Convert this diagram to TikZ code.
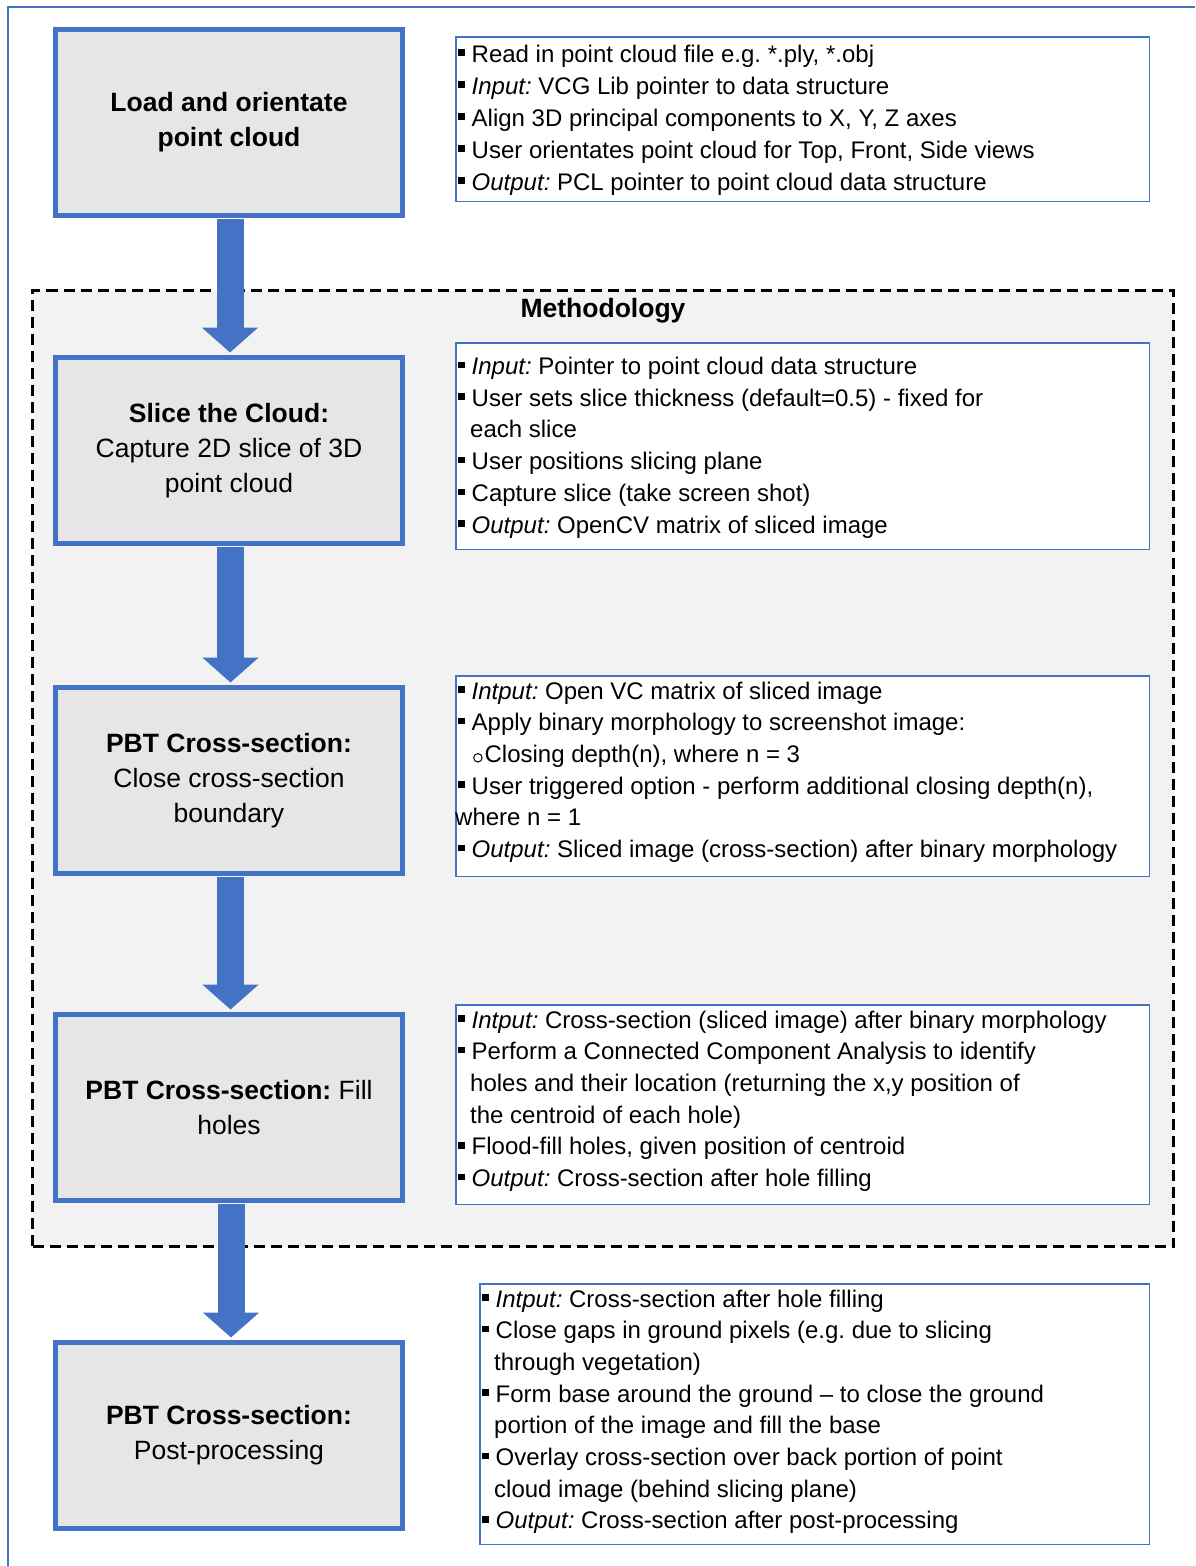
\documentclass[tikz,border=0pt]{standalone}
\usepackage{fontspec}
\setmainfont{Liberation Sans}
\usetikzlibrary{arrows.meta,calc}
\definecolor{bblue}{HTML}{4472C4}
\definecolor{boxgray}{HTML}{E6E6E6}
\definecolor{contgray}{HTML}{F2F2F2}
\frenchspacing
\newcommand\bul{\makebox[16.5pt][l]{\hspace{2.8pt}\rule[6.3pt]{6.5pt}{6.5pt}}}
\newcommand\cont{\hspace{15pt}}
\newcommand\subcirc{\hspace{18pt}\tikz[baseline=0pt]\draw[line width=1pt] (4.4pt,4.6pt) circle[radius=4.2pt];\hspace{2pt}}
\newcommand\lab[1]{{\itshape #1}}
\begin{document}
\begin{tikzpicture}[x=1pt,y=-1pt,
  stepbox/.style={draw=bblue,line width=5pt,fill=boxgray,minimum width=347pt,minimum height=186pt,align=center,inner sep=0pt,font=\fontsize{26.5}{35}\selectfont},
  infobox/.style={draw=bblue,line width=1.5pt,fill=white,inner sep=0pt},
  infotext/.style={anchor=base west,inner sep=0pt,font=\fontsize{24}{31.7}\selectfont},
  container/.style={draw=black,line width=3pt,dash pattern=on 11pt off 6pt,fill=contgray,minimum width=1141pt,minimum height=956pt,inner sep=0pt},
  flow/.style={bblue,line width=27pt,-{Triangle[width=55pt,length=25pt]}}]

\useasboundingbox (0,0) rectangle (1195,1566);
\fill[white] (0,0) rectangle (1195,1566);
\draw[bblue,line width=1.5pt] (8,1566) -- (8,7) -- (1195,7);

% Methodology container
\node[container] (meth) at (603,768.5) {};
\node[font=\fontsize{26.5}{35}\selectfont\bfseries,inner sep=0pt] (methlabel) at (603,311) {Methodology};

% step boxes
\node[stepbox] (b1) at (229,122.5) {\textbf{Load and orientate}\\\textbf{point cloud}\rule[-4pt]{0pt}{0pt}};
\node[stepbox] (b2) at (229,450.5) {\textbf{Slice the Cloud:}\\Capture 2D slice of 3D\\point cloud};
\node[stepbox] (b3) at (229,780.5) {\textbf{PBT Cross-section:}\\Close cross-section\\boundary};
\node[stepbox] (b4) at (229,1107.5) {\textbf{PBT Cross-section:} Fill\\holes};
\node[stepbox] (b5) at (229,1435.5) {\textbf{PBT Cross-section:}\\Post-processing};

% info boxes
\node[infobox,minimum width=693.5pt,minimum height=164.5pt] (i1) at (802.5,119) {};
\node[infobox,minimum width=693.5pt,minimum height=206.5pt] (i2) at (802.5,446) {};
\node[infobox,minimum width=693.5pt,minimum height=200.5pt] (i3) at (802.5,776) {};
\node[infobox,minimum width=693.5pt,minimum height=199.5pt] (i4) at (802.5,1104.5) {};
\node[infobox,minimum width=669.5pt,minimum height=260.5pt] (i5) at (814.5,1414) {};

\node[infotext,font=\fontsize{24}{32}\selectfont] (t1) at (455,62) {\parbox[t]{700pt}{\raggedright
\bul Read in point cloud file e.g. *.ply, *.obj\\
\bul\lab{Input:} VCG Lib pointer to data structure\\
\bul Align 3D principal components to X, Y, Z axes\\
\bul User orientates point cloud for Top, Front, Side views\\
\bul\lab{Output:} PCL pointer to point cloud data structure}};

\node[infotext] (t2) at (455,374.5) {\parbox[t]{700pt}{\raggedright
\bul\lab{Input:} Pointer to point cloud data structure\\
\bul User sets slice thickness (default=0.5) - fixed for\\
\cont each slice\\
\bul User positions slicing plane\\
\bul Capture slice (take screen shot)\\
\bul\lab{Output:} OpenCV matrix of sliced image}};

\node[infotext] (t3) at (455,699) {\parbox[t]{700pt}{\raggedright
\bul\lab{Intput:} Open VC matrix of sliced image\\
\bul Apply binary morphology to screenshot image:\\
\subcirc Closing depth(n), where n = 3\\
\bul User triggered option - perform additional closing depth(n),\\
where n = 1\\
\bul\lab{Output:} Sliced image (cross-section) after binary morphology}};

\node[infotext] (t4) at (455,1028) {\parbox[t]{700pt}{\raggedright
\bul\lab{Intput:} Cross-section (sliced image) after binary morphology\\
\bul Perform a Connected Component Analysis to identify\\
\cont holes and their location (returning the x,y position of\\
\cont the centroid of each hole)\\
\bul Flood-fill holes, given position of centroid\\
\bul\lab{Output:} Cross-section after hole filling}};

\node[infotext] (t5) at (479,1307) {\parbox[t]{670pt}{\raggedright
\bul\lab{Intput:} Cross-section after hole filling\\
\bul Close gaps in ground pixels (e.g. due to slicing\\
\cont through vegetation)\\
\bul Form base around the ground – to close the ground\\
\cont portion of the image and fill the base\\
\bul Overlay cross-section over back portion of point\\
\cont cloud image (behind slicing plane)\\
\bul\lab{Output:} Cross-section after post-processing}};

% flow arrows
\draw[flow] ($(b1.south)+(1,1)$) -- ($(b2.north)+(1,-2.5)$);
\draw[flow] ($(b2.south)+(1.5,1)$) -- ($(b3.north)+(1.5,-2.5)$);
\draw[flow] ($(b3.south)+(1.5,1)$) -- ($(b4.north)+(1.5,-2.5)$);
\draw[flow] ($(b4.south)+(2,1)$) -- ($(b5.north)+(2,-2.5)$);
\end{tikzpicture}
\end{document}
